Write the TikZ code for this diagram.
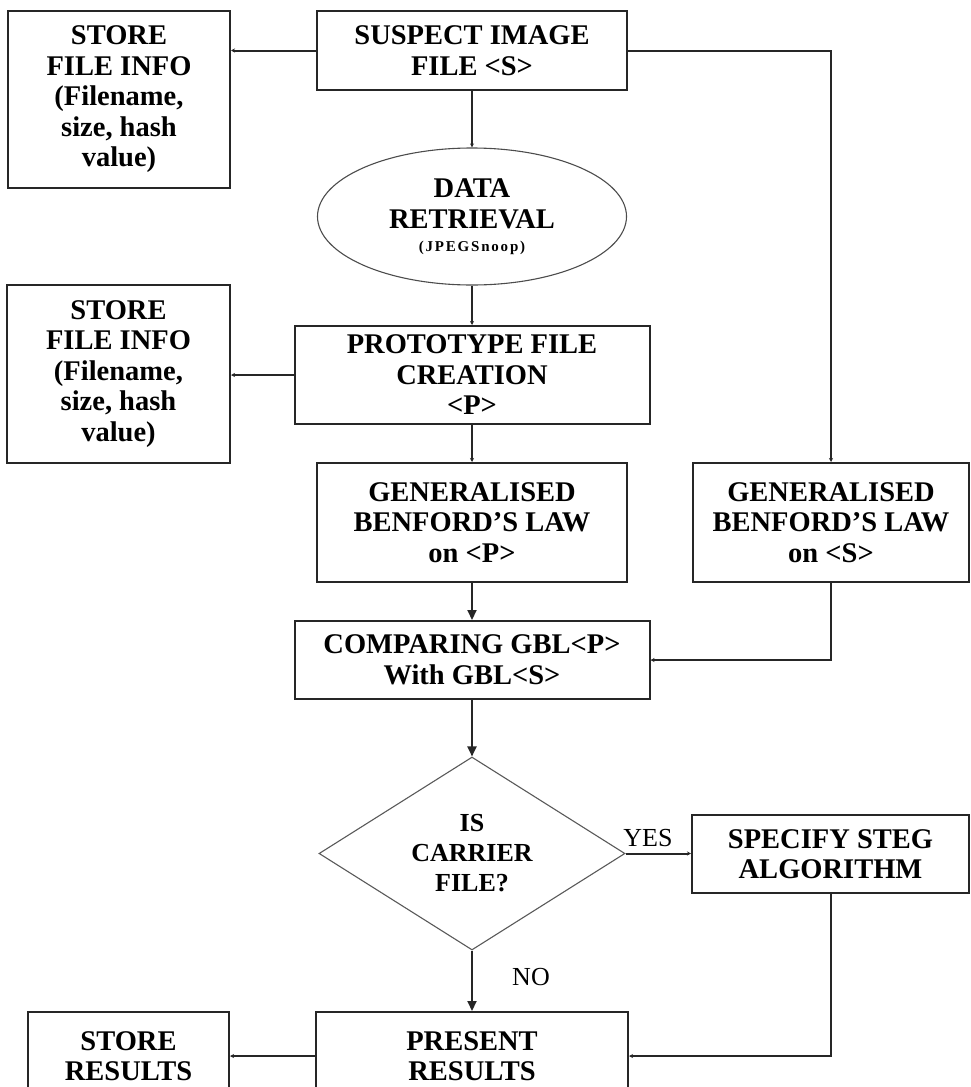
\documentclass[tikz,border=0pt]{standalone}
\usepackage{fontspec}
\setmainfont{Liberation Serif}
\usepackage{tikz}
\usetikzlibrary{shapes.geometric}
\usetikzlibrary{arrows.meta}
\tikzstyle{Box}=[draw=black!85,line width=2pt,align=center,inner sep=2pt,
font=\bfseries\fontsize{28.5}{30.5}\selectfont]
\tikzstyle{Oval}=[ellipse,draw=black!70,line width=1.1pt,align=center,inner sep=0pt,
font=\bfseries\fontsize{28.5}{31}\selectfont]
\tikzstyle{Decision}=[diamond,draw=black!65,line width=1.1pt,align=center,inner sep=0pt,
aspect=1.6,font=\bfseries\fontsize{26}{30}\selectfont]
\tikzstyle{Edge}=[draw=black!85,line width=2pt,-{Stealth[length=4pt,width=4pt]}]
\tikzstyle{EdgeBig}=[draw=black!85,line width=2pt,-{Triangle[length=10pt,width=9pt]}]
\tikzstyle{Tag}=[font=\fontsize{26}{28}\selectfont]
\begin{document}
\begin{tikzpicture}[x=1pt,y=-1pt]
        \clip(0,0)rectangle(970,1087);
        \node[Box,minimum width=310pt,minimum height=79pt](suspect)at(472,50.5){SUSPECT IMAGE\\FILE <S>};
        \node[Box,minimum width=222pt,minimum height=177pt](store1)at(119,99.5){STORE\\FILE INFO\\(Filename,\\size, hash\\value)};
        \node[Oval,minimum width=309pt,minimum height=137pt](retrieval)at(472,216.5){DATA\\RETRIEVAL\\[-8pt]{\fontsize{15}{16}\addfontfeature{LetterSpace=12}\selectfont(JPEGSnoop)}};
        \node[Box,minimum width=355pt,minimum height=98pt](proto)at(472,375){PROTOTYPE FILE\\CREATION\\<P>};
        \node[Box,minimum width=223pt,minimum height=178pt](store2)at(118.5,374){STORE\\FILE INFO\\(Filename,\\size, hash\\value)};
        \node[Box,minimum width=310pt,minimum height=119pt](gblP)at(472,522.5){GENERALISED\\BENFORD’S LAW\\on <P>};
        \node[Box,minimum width=276pt,minimum height=119pt](gblS)at(831,522.5){GENERALISED\\BENFORD’S LAW\\on <S>};
        \node[Box,minimum width=355pt,minimum height=78pt](compare)at(472,660){COMPARING GBL<P>\\With GBL<S>};
        \node[Decision,minimum width=306pt,minimum height=193pt](carrier)at(472,853.5){IS\\CARRIER\\FILE?};
        \node[Box,minimum width=277pt,minimum height=78pt](steg)at(830.5,854){SPECIFY STEG\\ALGORITHM};
        \node[Box,minimum width=312pt,minimum height=88pt](present)at(472,1056){PRESENT\\RESULTS};
        \node[Box,minimum width=201pt,minimum height=88pt](results)at(128.5,1056){STORE\\RESULTS};
        \node[Tag](yes)at(648,838){YES};
        \node[Tag](no)at(531,977){NO};
        \draw[Edge](suspect.west)--(suspect.west-|store1.east);
        \draw[Edge](suspect)--(retrieval);
        \draw[Edge](retrieval)--(proto);
        \draw[Edge](proto.west)--(proto.west-|store2.east);
        \draw[Edge](proto)--(gblP);
        \draw[EdgeBig](gblP)--(compare);
        \draw[Edge](suspect.east)-|(gblS.north);
        \draw[Edge](gblS.south)|-(compare.east);
        \draw[EdgeBig](compare)--(carrier);
        \draw[Edge](carrier.east)--(carrier.east-|steg.west);
        \draw[EdgeBig](carrier)--(present);
        \draw[Edge](steg.south)|-(present.east);
        \draw[Edge](present.west)--(present.west-|results.east);
    \end{tikzpicture}
\end{document}
